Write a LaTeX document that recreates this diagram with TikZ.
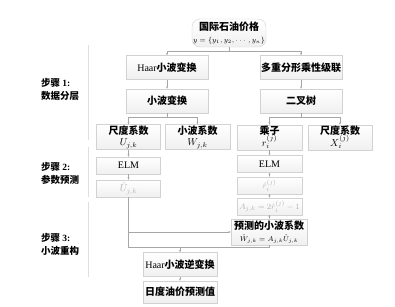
\documentclass[tikz,border=0pt]{standalone}
\usepackage{fontspec}
\setmainfont{Liberation Serif}
\newfontfamily\cjk{Noto Sans CJK SC}
\usepackage{amsmath}
\usetikzlibrary{arrows.meta, positioning}
\newcommand{\zh}[1]{{\cjk\bfseries #1}}

\begin{document}
\begin{tikzpicture}[x=1pt, y=-1pt,
    box/.style={rectangle, draw=gray!35, top color=white, bottom color=gray!12, font=\fontsize{10}{11.5}\selectfont, align=center, inner sep=1pt},
    wide/.style={box, minimum width=82pt, minimum height=24pt},
    half/.style={box, minimum width=64pt, minimum height=25pt},
    thin/.style={box, minimum width=64pt, minimum height=17pt},
    faded/.style={thin, text=gray!60},
    link/.style={draw=gray!70, line width=0.5pt},
    arr/.style={link, -{Stealth[length=2.5pt, width=2pt]}},
    steplabel/.style={font=\fontsize{9.5}{13}\selectfont, align=left}
]
\useasboundingbox (0,0) rectangle (395,306);

% Input series
\node[box, rounded corners=8pt, minimum width=74pt, minimum height=28pt] (price) at (229,33) {\zh{国际石油价格}\\[1pt]{\scriptsize $y=\{y_1,y_2,\cdots,y_n\}$}};

% Step 1: decomposition
\node[wide] (haar) at (167,67.5) {Haar\zh{小波变换}};
\node[wide] (mfc) at (301,67.5) {\zh{多重分形乘性级联}};
\node[wide] (wt) at (167,101) {\zh{小波变换}};
\node[wide] (tree) at (301,101) {\zh{二叉树}};
\node[half] (scaleU) at (128.5,137) {\zh{尺度系数}\\$U_{j,k}$};
\node[half, minimum width=65pt] (waveW) at (197.5,137) {\zh{小波系数}\\$W_{j,k}$};
\node[half, minimum width=65pt] (mult) at (269.5,137.5) {\zh{乘子}\\$r_i^{(j)}$};
\node[half] (scaleX) at (340,137.5) {\zh{尺度系数}\\$X_i^{(j)}$};

% Step 2: prediction
\node[thin] (elmL) at (128.5,165.5) {ELM};
\node[faded] (uhat) at (128.5,188.5) {$\hat{U}_{j,k}$};
\node[thin, minimum width=65pt] (elmR) at (269.5,164) {ELM};
\node[faded, minimum width=65pt] (rhat) at (269.5,185.5) {\footnotesize$\hat{r}_i^{(j)}$};
\node[faded, minimum width=65pt] (abox) at (269.5,206.5) {\fontsize{8}{9}\selectfont$A_{j,k}=2\hat{r}_i^{(j)}-1$};

% Step 3: reconstruction
\node[box, minimum width=76pt, minimum height=26pt] (pred) at (269,232) {\zh{预测的小波系数}\\[1pt]{\scriptsize$\hat{W}_{j,k}=A_{j,k}\hat{U}_{j,k}$}};
\node[box, minimum width=74pt, minimum height=24pt] (ihaar) at (180,264.5) {Haar\zh{小波逆变换}};
\node[box, minimum width=74pt, minimum height=22pt] (daily) at (180,292) {\zh{日度油价预测值}};

% Step labels and separators
\node[steplabel] (step1) at (60,89) {\zh{步骤} \textbf{1:}\\\zh{数据分层}};
\node[steplabel] (step2) at (60,173) {\zh{步骤} \textbf{2:}\\\zh{参数预测}};
\node[steplabel] (step3) at (60,244) {\zh{步骤} \textbf{3:}\\\zh{小波重构}};
\draw[gray!25] (88,45) -- (88,140);
\draw[gray!25] (88,147) -- (88,197);
\draw[gray!25] (88,202) -- (88,277);

% Connectors
\coordinate (split0) at (229,51);
\draw[link] (price.south) -- (split0);
\draw[arr] (split0) -| (haar.north);
\draw[arr] (split0) -| (mfc.north);
\draw[arr] (haar.south) -- (wt.north);
\draw[arr] (mfc.south) -- (tree.north);

\coordinate (splitL) at (167,117);
\draw[link] (wt.south) -- (splitL);
\draw[arr] (splitL) -| (scaleU.north);
\draw[arr] (splitL) -| (waveW.north);
\coordinate (splitR) at (301,117);
\draw[link] (tree.south) -- (splitR);
\draw[arr] (splitR) -| (mult.north);
\draw[arr] (splitR) -| (scaleX.north);

\draw[arr] (scaleU.south) -- (elmL.north);
\draw[arr] (elmL.south) -- (uhat.north);
\draw[arr] (mult.south) -- (elmR.north);
\draw[arr] (elmR.south) -- (rhat.north);
\draw[arr] (rhat.south) -- (abox.north);
\draw[arr] (abox.south) -- (pred.north -| abox.south);

\draw[arr] (uhat.south) |- (pred.west);
\coordinate (merge) at (128.5,247);
\draw[link] (uhat.south) -- (merge) -| (pred.south);
\draw[arr] (merge -| ihaar.north) -- (ihaar.north);
\draw[arr] (ihaar.south) -- (daily.north);
\end{tikzpicture}
\end{document}
